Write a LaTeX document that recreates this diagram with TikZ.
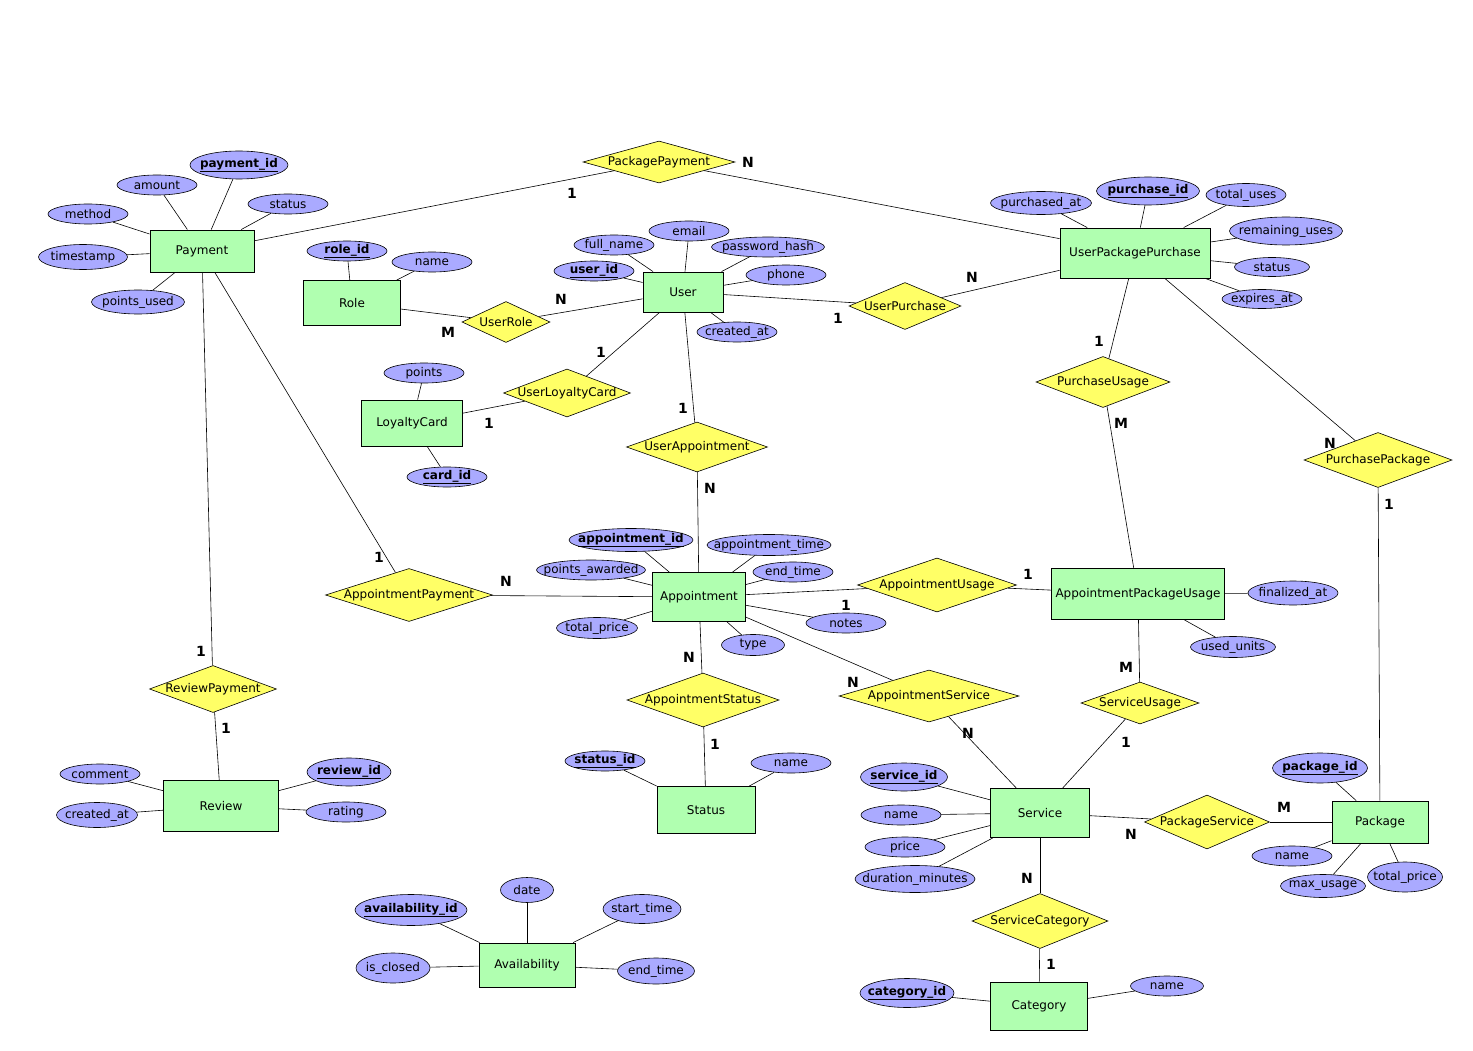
\documentclass[tikz,border=0pt]{standalone}
\usepackage{fontspec}
\setmainfont{DejaVu Sans}
\usetikzlibrary{shapes.geometric}
\definecolor{entgreen}{RGB}{176,255,176}
\definecolor{attblue}{RGB}{170,170,255}
\definecolor{relyellow}{RGB}{255,255,102}
\tikzset{
  fixtext/.style={execute at begin node={\hbox to 0pt\bgroup\hss}, execute at end node={\hss\egroup}},
  ent/.style 2 args={rectangle, draw, line width=0.9pt, fill=entgreen, inner sep=0pt, fixtext, minimum width=#1pt, minimum height=#2pt, font=\fontsize{12}{14}\selectfont},
  rel/.style 2 args={diamond, draw, line width=0.6pt, fill=relyellow, inner sep=0pt, fixtext, minimum width=#1pt, minimum height=#2pt, font=\fontsize{12}{14}\selectfont},
  att/.style 2 args={ellipse, draw, line width=0.6pt, fill=attblue, inner sep=0pt, fixtext, minimum width=#1pt, minimum height=#2pt, font=\fontsize{12}{14}\selectfont},
  keyatt/.style 2 args={att={#1}{#2}, font=\fontsize{12}{14}\selectfont\bfseries},
  card/.style={inner sep=0pt, font=\fontsize{14}{16}\selectfont\bfseries},
  link/.style={line width=0.6pt}
}
\begin{document}
\begin{tikzpicture}[x=1pt,y=-1pt]
\fill[white] (0,0) rectangle (1473,1051);
\useasboundingbox (0,0) rectangle (1473,1051);
% entities
\node[ent={104}{42}] (payment) at (202,251) {Payment};
\node[ent={97}{45}] (role) at (352,303) {Role};
\node[ent={80}{40}] (user) at (683,292) {User};
\node[ent={101}{46}] (loyalty) at (412,423) {LoyaltyCard};
\node[ent={150}{50}] (upp) at (1135,253) {UserPackagePurchase};
\node[ent={93}{49}] (appt) at (699,597) {Appointment};
\node[ent={173}{51}] (apu) at (1138,594) {AppointmentPackageUsage};
\node[ent={115}{51}] (review) at (221,806) {Review};
\node[ent={98}{47}] (status) at (706,810) {Status};
\node[ent={96}{44}] (avail) at (527,965) {Availability};
\node[ent={99}{49}] (service) at (1040,813) {Service};
\node[ent={96}{42}] (package) at (1380,822) {Package};
\node[ent={97}{48}] (category) at (1039,1006) {Category};
% relationships
\node[rel={152}{42}] (pkgpay) at (659,162) {PackagePayment};
\node[rel={88}{41}] (userrole) at (506,322) {UserRole};
\node[rel={112}{47}] (userpurch) at (905,306) {UserPurchase};
\node[rel={127}{48}] (userloyal) at (567,393) {UserLoyaltyCard};
\node[rel={141}{50}] (userappt) at (697,447) {UserAppointment};
\node[rel={134}{51}] (purchusage) at (1103,382) {PurchaseUsage};
\node[rel={148}{55}] (purchpkg) at (1378,460) {PurchasePackage};
\node[rel={167}{53}] (apptpay) at (409,595) {AppointmentPayment};
\node[rel={159}{54}] (apptusage) at (937,585) {AppointmentUsage};
\node[rel={180}{52}] (apptserv) at (929,696) {AppointmentService};
\node[rel={118}{42}] (servusage) at (1140,703) {ServiceUsage};
\node[rel={152}{54}] (apptstat) at (703,700) {AppointmentStatus};
\node[rel={127}{47}] (revpay) at (213,689) {ReviewPayment};
\node[rel={125}{54}] (pkgserv) at (1207,822) {PackageService};
\node[rel={136}{55}] (servcat) at (1040,921) {ServiceCategory};
% attributes
\node[keyatt={98}{28}] (payid) at (239,165) {\underline{payment\_id}};
\node[att={80}{20}] (payamount) at (157,185) {amount};
\node[att={80}{20}] (paymethod) at (88,214) {method};
\node[att={80}{20}] (paystatus) at (288,204) {status};
\node[att={89}{25}] (paytime) at (83,257) {timestamp};
\node[att={93}{24}] (paypoints) at (138,302) {points\_used};
\node[keyatt={80}{20}] (roleid) at (347,251) {\underline{role\_id}};
\node[att={80}{20}] (rolename) at (432,262) {name};
\node[att={80}{20}] (useremail) at (689,231) {email};
\node[att={80}{20}] (userfull) at (614,245) {full\_name};
\node[att={113}{20}] (userpass) at (768,247) {password\_hash};
\node[keyatt={80}{20}] (userid) at (594,271) {\underline{user\_id}};
\node[att={80}{20}] (userphone) at (786,275) {phone};
\node[att={80}{20}] (usercreated) at (737,332) {created\_at};
\node[att={101}{23}] (upppurchased) at (1041,203) {purchased\_at};
\node[keyatt={103}{28}] (uppid) at (1148,191) {\underline{purchase\_id}};
\node[att={80}{23}] (upptotal) at (1246,195) {total\_uses};
\node[att={113}{28}] (uppremain) at (1286,231) {remaining\_uses};
\node[att={75}{19}] (uppstatus) at (1272,267) {status};
\node[att={80}{19}] (uppexpires) at (1262,299) {expires\_at};
\node[att={80}{20}] (loyalpoints) at (424,373) {points};
\node[keyatt={80}{20}] (loyalid) at (447,477) {\underline{card\_id}};
\node[keyatt={124}{23}] (apptid) at (631,540) {\underline{appointment\_id}};
\node[att={124}{21}] (appttime) at (769,545) {appointment\_time};
\node[att={109}{20}] (apptpoints) at (591,570) {points\_awarded};
\node[att={80}{20}] (apptend) at (793,572) {end\_time};
\node[att={81}{21}] (apptprice) at (597,628) {total\_price};
\node[att={80}{20}] (apptnotes) at (846,623) {notes};
\node[att={63}{21}] (appttype) at (753,645) {type};
\node[att={90}{24}] (apufinal) at (1293,593) {finalized\_at};
\node[att={85}{21}] (apuunits) at (1233,647) {used\_units};
\node[att={80}{20}] (revcomment) at (100,774) {comment};
\node[att={81}{25}] (revcreated) at (97,815) {created\_at};
\node[keyatt={84}{28}] (revid) at (349,772) {\underline{review\_id}};
\node[att={80}{20}] (revrating) at (346,812) {rating};
\node[keyatt={80}{20}] (statid) at (605,761) {\underline{status\_id}};
\node[att={80}{20}] (statname) at (791,763) {name};
\node[keyatt={112}{31}] (availid) at (411,910) {\underline{availability\_id}};
\node[att={53}{25}] (availdate) at (527,890) {date};
\node[att={78}{29}] (availstart) at (642,909) {start\_time};
\node[att={74}{30}] (availclosed) at (393,968) {is\_closed};
\node[att={77}{26}] (availend) at (656,971) {end\_time};
\node[keyatt={87}{28}] (servid) at (904,777) {\underline{service\_id}};
\node[att={80}{20}] (servname) at (901,815) {name};
\node[att={80}{20}] (servprice) at (905,847) {price};
\node[att={120}{27}] (servdur) at (915,879) {duration\_minutes};
\node[keyatt={95}{30}] (pkgid) at (1320,768) {\underline{package\_id}};
\node[att={80}{20}] (pkgname) at (1292,856) {name};
\node[att={85}{23}] (pkgmax) at (1323,886) {max\_usage};
\node[att={75}{30}] (pkgtotal) at (1405,877) {total\_price};
\node[keyatt={94}{29}] (catid) at (907,993) {\underline{category\_id}};
\node[att={73}{20}] (catname) at (1167,986) {name};
% cardinalities
\node[card] (c1) at (572,193) {1};
\node[card] (c2) at (748,162) {N};
\node[card] (c3) at (838,318) {1};
\node[card] (c4) at (972,277) {N};
\node[card] (c5) at (448,332) {M};
\node[card] (c6) at (561,299) {N};
\node[card] (c7) at (601,352) {1};
\node[card] (c8) at (489,423) {1};
\node[card] (c9) at (683,408) {1};
\node[card] (c10) at (710,488) {N};
\node[card] (c11) at (1099,341) {1};
\node[card] (c12) at (1121,423) {M};
\node[card] (c13) at (1330,443) {N};
\node[card] (c14) at (1389,504) {1};
\node[card] (c15) at (379,557) {1};
\node[card] (c16) at (506,581) {N};
\node[card] (c17) at (1028,574) {1};
\node[card] (c18) at (846,605) {1};
\node[card] (c19) at (853,682) {N};
\node[card] (c20) at (968,733) {N};
\node[card] (c21) at (689,657) {N};
\node[card] (c22) at (715,744) {1};
\node[card] (c23) at (1126,667) {M};
\node[card] (c24) at (1126,742) {1};
\node[card] (c25) at (201,651) {1};
\node[card] (c26) at (226,728) {1};
\node[card] (c27) at (1131,834) {N};
\node[card] (c28) at (1284,807) {M};
\node[card] (c29) at (1027,878) {N};
\node[card] (c30) at (1051,964) {1};
% connectors
\foreach \a/\b in {payment/pkgpay, pkgpay/upp, payment/revpay, revpay/review, payment/apptpay, apptpay/appt,
  role/userrole, userrole/user, user/userpurch, userpurch/upp, user/userloyal, userloyal/loyalty,
  user/userappt, userappt/appt, upp/purchusage, purchusage/apu, upp/purchpkg, purchpkg/package,
  appt/apptusage, apptusage/apu, appt/apptstat, apptstat/status, appt/apptserv, apptserv/service,
  apu/servusage, servusage/service, service/pkgserv, pkgserv/package, service/servcat, servcat/category}
  \draw[link] (\a) -- (\b);
\foreach \a/\b in {payid/payment, payamount/payment, paymethod/payment, paystatus/payment, paytime/payment, paypoints/payment,
  roleid/role, rolename/role, useremail/user, userfull/user, userpass/user, userid/user, userphone/user, usercreated/user,
  upppurchased/upp, uppid/upp, upptotal/upp, uppremain/upp, uppstatus/upp, uppexpires/upp, loyalpoints/loyalty, loyalid/loyalty,
  apptid/appt, appttime/appt, apptpoints/appt, apptend/appt, apptprice/appt, apptnotes/appt, appttype/appt,
  apufinal/apu, apuunits/apu, revcomment/review, revcreated/review, revid/review, revrating/review,
  statid/status, statname/status, availid/avail, availdate/avail, availstart/avail, availclosed/avail, availend/avail,
  servid/service, servname/service, servprice/service, servdur/service, pkgid/package, pkgname/package, pkgmax/package,
  pkgtotal/package, catid/category, catname/category}
  \draw[link] (\a) -- (\b);
\end{tikzpicture}
\end{document}
